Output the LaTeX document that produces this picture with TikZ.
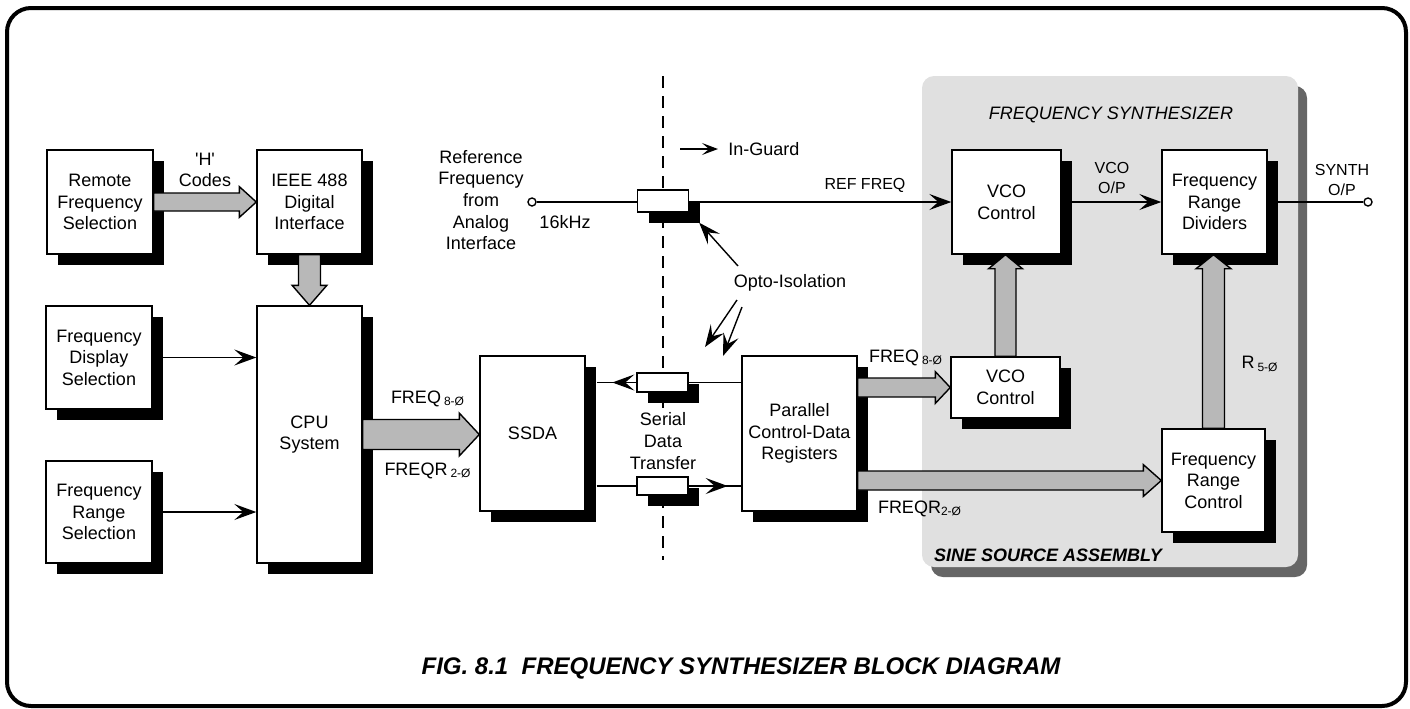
\documentclass[tikz,border=0pt]{standalone}
\usepackage{fontspec}
\setmainfont{Liberation Sans}
\usetikzlibrary{arrows.meta,
positioning,
calc,
shadows}

\newcommand{\lblfont}{\fontsize{9}{10.8}\selectfont}
\newcommand{\sigfont}{\fontsize{8}{9.6}\selectfont}

\begin{document}
\begin{tikzpicture}[
    x=0.5pt, y=-0.5pt,
    >={Stealth[length=11pt, width=8pt, inset=4.5pt]},
    font=\lblfont,
    blk/.style={
        draw,
        line width=0.7pt,
        fill=white,
        align=center,
        minimum width=53pt,
        minimum height=52pt,
        inner sep=1pt,
        drop shadow={shadow xshift=5.5pt, shadow yshift=-5.5pt, fill=black, opacity=1}
    },
    opto/.style={
        blk,
        minimum width=25.5pt,
        minimum height=10pt
    },
    flow/.style={
        ->,
        line width=0.7pt
    },
    wire/.style={
        line width=0.7pt
    },
    bus width/.code={\def\busw{#1}\pgfmathsetlengthmacro\bushw{#1+3.2pt}},
    bus head/.store in=\bushead,
    bus width=4.5pt,
    bus head=8.5pt,
    bus/.style={
        draw,
        line width=0.7pt,
        fill=black!28,
        to path={let \p1=($(\tikztotarget)!\bushead!(\tikztostart)$) in
            ($(\tikztostart)!\busw!90:(\tikztotarget)$)
            -- ($(\p1)!\busw!-90:(\tikztostart)$)
            -- ($(\p1)!\bushw!-90:(\tikztostart)$)
            -- (\tikztotarget)
            -- ($(\p1)!\bushw!90:(\tikztostart)$)
            -- ($(\p1)!\busw!90:(\tikztostart)$)
            -- ($(\tikztostart)!\busw!-90:(\tikztotarget)$)
            -- cycle}
    },
    lbl/.style={
        align=center,
        inner sep=1pt
    },
    sig/.style={
        lbl,
        font=\sigfont
    },
    term/.style={
        circle,
        draw,
        line width=0.7pt,
        fill=white,
        minimum size=4pt,
        inner sep=0pt
    }
]
\useasboundingbox (0,0) rectangle (1410,708);

%-------------------------------------------------
% Frame, guard line and synthesizer panel
%-------------------------------------------------

\draw[line width=2pt, rounded corners=12pt] (7,8) rectangle (1406,706);

\fill[black!60, rounded corners=6pt] (931,86) rectangle (1307,577);
\fill[black!12, rounded corners=6pt] (922,76) rectangle (1298,567);

\draw[line width=0.6pt, dash pattern=on 6pt off 4pt] (663,76) -- (663,560);

%-------------------------------------------------
% Out-guard blocks
%-------------------------------------------------

\node[blk] (remote) at (100,202) {Remote\\Frequency\\Selection};
\node[blk, minimum width=52.5pt] (ieee) at (309.5,202) {IEEE 488\\Digital\\Interface};
\node[blk, minimum height=51.5pt] (dispsel) at (99,357.5) {Frequency\\Display\\Selection};
\node[blk, minimum height=51pt] (rangesel) at (99,512) {Frequency\\Range\\Selection};
\node[blk, minimum width=52.5pt, minimum height=128.5pt] (cpu) at (309.5,434.5) {CPU\\System};
\node[blk, minimum width=52.5pt, minimum height=77.5pt] (ssda) at (532.5,433.5) {SSDA};

\draw[bus] (remote.east) to (remote.east -| ieee.west);
\node[lbl] (hcodes) at (205,170) {\textquotesingle H\textquotesingle\\Codes};

\draw[bus, bus width=5.5pt, bus head=10pt] (ieee.south) to (cpu.north);

\draw[flow] (dispsel.east) -- (dispsel.east -| cpu.west);
\draw[flow] (rangesel.east) -- (rangesel.east -| cpu.west);

\draw[bus, bus width=7.5pt, bus head=10pt] (cpu.east) to (cpu.east -| ssda.west);
\node[lbl] (freqa) at (428,399) {FREQ\,\textsubscript{8-Ø}};
\node[lbl] (freqra) at (428,471) {FREQR\,\textsubscript{2-Ø}};

%-------------------------------------------------
% Reference input and opto-isolation
%-------------------------------------------------

\node[term] (refin) at (532,202) {};
\node[lbl] (reftxt) at (481,200) {Reference\\Frequency\\from\\Analog\\Interface};
\node[lbl] (khz) at (565,222) {16kHz};

\node[opto, minimum height=11pt] (optoref) at (663,201) {};
\node[opto, minimum height=9.5pt] (optotx) at (662.5,382.5) {};
\node[opto, minimum height=9pt] (optorx) at (662.5,486) {};

\node[lbl, anchor=west] (inguard) at (726,149) {In-Guard};
\coordinate (guardtail) at (680,149);
\draw[-{Stealth[length=8pt, width=6pt, inset=3.5pt]}, line width=0.7pt, shorten >=4pt]
    (guardtail) -- (inguard.west);

\node[lbl] (optolbl) at (790,283) {Opto-Isolation};
\coordinate (optotail) at (738,266);
\draw[flow] (optotail) -- ([xshift=5pt, yshift=-5pt]optoref.south east);

\coordinate (rayAa) at (737,300);
\coordinate (rayAb) at (705,347);
\coordinate (rayBa) at (742,307);
\coordinate (rayBb) at (723,356);
\draw[flow] (rayAa) -- (rayAb);
\draw[flow] (rayBa) -- (rayBb);

\node[lbl, fill=white] (serial) at (663,441) {Serial\\Data\\Transfer};

%-------------------------------------------------
% In-guard blocks
%-------------------------------------------------

\node[blk, minimum width=57.5pt, minimum height=77.5pt] (pcd) at (799.5,433.5) {Parallel\\Control-Data\\Registers};
\node[blk, minimum width=54.5pt] (vcou) at (1006.5,202) {VCO\\Control};
\node[blk, minimum width=54.5pt, minimum height=30.5pt] (vcol) at (1005.5,387.5) {VCO\\Control};
\node[blk, minimum width=52.5pt] (frd) at (1214.5,202) {Frequency\\Range\\Dividers};
\node[blk, minimum width=51.5pt, minimum height=51.5pt] (frc) at (1213.5,480.5) {Frequency\\Range\\Control};
\node[term] (synthout) at (1368,202) {};

% serial links
\path (ssda.east |- optotx.west) ++(5.5pt,0) coordinate (txend);
\draw[wire] (optotx.west) -- (txend);
\draw[flow] (optotx.west) -- ++(-12pt,0);
\draw[wire] (optotx.east) -- (optotx.east -| pcd.west);

\path (ssda.east |- optorx.west) ++(5.5pt,0) coordinate (rxstart);
\draw[wire] (rxstart) -- (optorx.west);
\draw[wire] (optorx.east) -- (optorx.east -| pcd.west);
\draw[flow] (optorx.east) -- ++(19.5pt,0);

% reference frequency path
\draw[wire] (refin) -- (refin -| optoref.west);
\draw[flow] (optoref.east |- refin) -- (refin -| vcou.west);
\node[sig] (reflbl) at (865,185) {REF FREQ};

\draw[flow] (vcou.east) -- (vcou.east -| frd.west);
\node[sig] (vcoop) at (1112,178) {VCO\\O/P};

\draw[wire] (frd.east) -- (synthout);
\node[sig] (synthlbl) at (1342,180) {SYNTH\\O/P};

% parallel buses
\draw[bus, bus width=4.75pt, bus head=7.5pt] (pcd.east |- vcol.west) to (vcol.west);
\node[lbl] (freqb) at (906,358) {FREQ\,\textsubscript{8-Ø}};

\draw[bus, bus width=4.75pt, bus head=9pt] (pcd.east |- frc.west) to (frc.west);
\node[lbl] (freqrb) at (920,509) {FREQR\textsubscript{2-Ø}};

\draw[bus, bus width=5.25pt, bus head=7pt] (vcol.north) to (vcol.north |- vcou.south);
\draw[bus, bus width=5.5pt, bus head=7pt] (frc.north) to (frc.north |- frd.south);
\node[lbl] (rsel) at (1260,364) {R\,\textsubscript{5-Ø}};

%-------------------------------------------------
% Titles
%-------------------------------------------------

\node[lbl, font=\lblfont\itshape] (synthttl) at (1111,115) {FREQUENCY SYNTHESIZER};
\node[lbl, font=\lblfont\bfseries\itshape] (sinettl) at (1048,555) {SINE SOURCE ASSEMBLY};
\node[lbl, font=\fontsize{12}{14}\selectfont\bfseries\itshape] (caption) at (741,668)
{FIG. 8.1\ \ FREQUENCY SYNTHESIZER BLOCK DIAGRAM};

\end{tikzpicture}
\end{document}
